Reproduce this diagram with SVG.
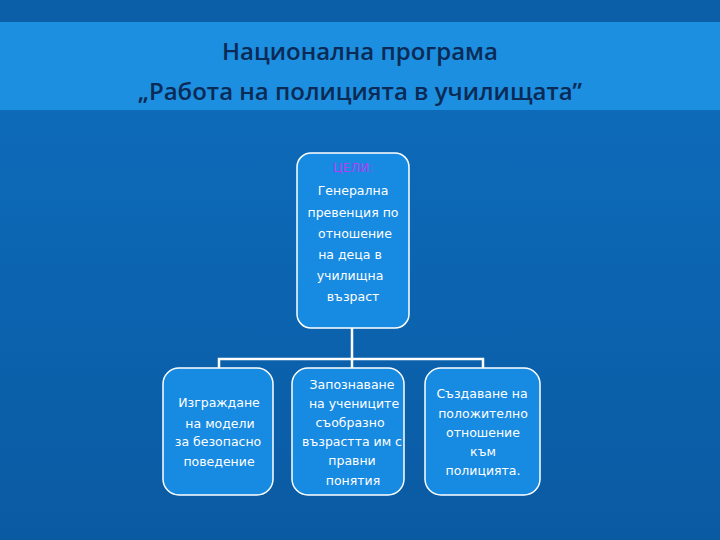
<svg xmlns="http://www.w3.org/2000/svg" width="720" height="540" viewBox="0 0 720 540">
<defs>
<linearGradient id="bg" x1="0" y1="0" x2="0" y2="1">
<stop offset="0" stop-color="#0e6fbf"/><stop offset="1" stop-color="#0a5aa2"/>
</linearGradient>
<style>
.box{fill:#178ae2;stroke:#fff;stroke-width:1.5}
.t{font-family:"DejaVu Sans",sans-serif;font-size:12.5px;fill:#fff;text-anchor:middle;font-weight:normal}
.c{stroke:#fff;stroke-width:2.5;fill:none}
</style>
</defs>
<rect width="720" height="540" fill="url(#bg)"/>
<rect y="0" width="720" height="22" fill="#0b5fa8"/>
<rect y="22" width="720" height="88" fill="#1c8fe0"/>
<g font-family="'Open Sans','DejaVu Sans',sans-serif" font-size="24" font-weight="600" fill="#0b2a55" text-anchor="middle">
<text x="360" y="60">Национална програма</text>
<text x="360" y="100">„Работа на полицията в училищата”</text>
</g>
<g id="connectors">
<path class="c" d="M352 328V359M219 368V359H483V368M352 359V368"/>
</g>
<g id="n0"><rect class="box" x="297" y="153" width="112" height="175" rx="14"/>
<text class="t" x="353" y="172" font-size="11" font-weight="bold" style="fill:#b040f0">ЦЕЛИ:</text>
<text class="t" x="353" y="195">Генерална</text>
<text class="t" x="353" y="217">превенция по</text>
<text class="t" x="355" y="238">отношение</text>
<text class="t" x="350" y="259">на деца  в</text>
<text class="t" x="350" y="280">училищна</text>
<text class="t" x="353" y="301">възраст</text></g>
<g id="n1"><rect class="box" x="163" y="368" width="110" height="127" rx="16"/>
<text class="t" x="219" y="407">Изграждане</text>
<text class="t" x="220" y="428">на модели</text>
<text class="t" x="218" y="446">за безопасно</text>
<text class="t" x="219" y="466">поведение</text></g>
<g id="n2"><rect class="box" x="292" y="368" width="112" height="127" rx="16"/>
<text class="t" x="352" y="389">Запознаване</text>
<text class="t" x="354" y="408">на учениците</text>
<text class="t" x="350" y="427">съобразно</text>
<text class="t" x="352" y="446">възрастта им с</text>
<text class="t" x="352" y="465">правни</text>
<text class="t" x="353" y="485">понятия</text></g>
<g id="n3"><rect class="box" x="425" y="368" width="115" height="127" rx="16"/>
<text class="t" x="482" y="398">Създаване на</text>
<text class="t" x="483" y="418">положително</text>
<text class="t" x="483" y="437">отношение</text>
<text class="t" x="483" y="456">към</text>
<text class="t" x="483" y="475">полицията.</text></g>
</svg>
